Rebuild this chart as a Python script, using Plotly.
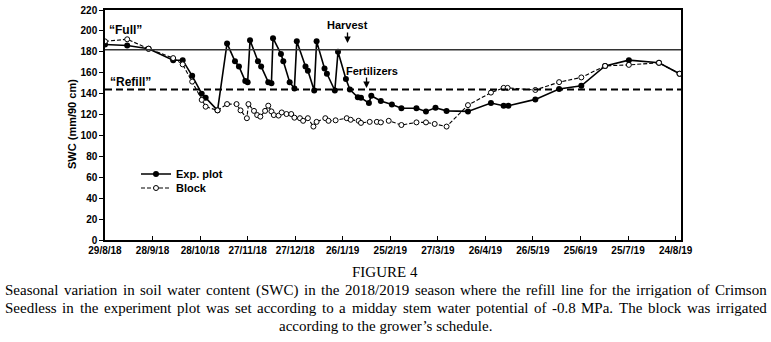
import pandas as pd
import plotly.graph_objects as go

# ---- data (days since 29/8/18, SWC mm/90 cm) ----
start = pd.Timestamp("2018-08-29")
exp_days = [0, 14, 27.5, 43, 49, 55, 61, 63.5, 71, 77,
            82, 84.5, 88.5, 90, 91.5, 96.5, 98.5, 103, 105, 106,
            111, 112.5, 116.5, 119.5, 121, 126.5, 128, 132, 133.5, 138.5,
            140, 145, 147, 152, 154.5, 159.5, 161.5, 166.5, 168, 174,
            181, 187, 196.5, 202.5, 208.5, 215.5, 229, 243.5, 251.5, 254.5,
            271.5, 286.5, 300.5, 315.5, 330.5, 349.5, 362.5]
exp_vals = [187, 186, 183, 172, 172, 157, 140, 136, 124, 188,
            171, 166, 152, 151, 191, 171, 166, 151, 150, 193,
            178, 171, 151, 145, 190, 166, 162, 143, 190, 164,
            159, 143, 180, 154, 144, 136.5, 136, 131, 138, 133,
            129.5, 126, 126, 123, 126.5, 123.5, 123, 131, 128.5, 128.5,
            134.5, 144.5, 147.5, 166.5, 172, 169.5, 159]
block_days = [0, 14, 27.5, 43, 49, 55, 61, 63.5, 71, 77,
              83, 85.5, 89.5, 90.5, 94, 96, 98, 101, 103, 105,
              106.5, 109.5, 111.5, 114.5, 117.5, 119.5, 123, 125, 128, 131.5,
              133.5, 139, 141, 145.5, 152.5, 155, 160, 161.5, 167, 171.5,
              174, 179, 187, 196.5, 202.5, 208, 215.5, 229, 243.5, 251.5,
              254, 271.5, 286.5, 300.5, 315.5, 330.5, 349.5, 362.5]
block_vals = [190, 192, 183, 174, 168, 151.5, 134, 127.5, 124, 130,
              130, 124, 116.5, 130, 123.5, 119.5, 118, 123.5, 128.5, 123,
              119.5, 119, 122, 120.5, 120.5, 117, 116.5, 114, 116.5, 108.5,
              113, 116.5, 114, 114.5, 116.5, 115, 114, 112, 113, 113,
              112.5, 114, 110, 112.5, 112.5, 111, 108.5, 129, 141, 145.5,
              145.5, 143.5, 151, 155.5, 166.5, 167.5, 169.5, 159]
full_level = 182
refill_level = 144
tick_days = [0, 30, 60, 90, 120, 150, 180, 210, 240, 270, 300, 330, 360]
tick_labels = ["29/8/18", "28/9/18", "28/10/18", "27/11/18", "27/12/18", "26/1/19",
               "25/2/19", "27/3/19", "26/4/19", "26/5/19", "25/6/19", "25/7/19", "24/8/19"]
harvest_day, harvest_val = 153, 188.5
fert_day, fert_val = 165, 145.5

W, H = 771, 342
L, R, T, B = 105, 90, 10, 102
PW, PH = W - L - R, H - T - B


def to_dates(days):
    return [start + pd.Timedelta(days=d) for d in days]


def day(d):
    return start + pd.Timedelta(days=d)


def px_x(px):
    return (px - L) / PW


def px_y(py):
    return (H - B - py) / PH


fig = go.Figure()
fig.add_trace(go.Scatter(x=to_dates(exp_days), y=exp_vals, mode="lines+markers",
                         name="<b>Exp. plot</b>", legend="legend",
                         line=dict(color="black", width=1.6),
                         marker=dict(symbol="circle", size=6, color="black")))
fig.add_trace(go.Scatter(x=to_dates(block_days), y=block_vals, mode="lines+markers",
                         name="<b>Block</b>", legend="legend2",
                         line=dict(color="black", width=1.1, dash="4px,2px"),
                         marker=dict(symbol="circle", size=5, color="white",
                                     line=dict(color="black", width=1))))

fig.add_shape(type="line", xref="paper", x0=0, x1=1, yref="y", y0=full_level, y1=full_level,
              line=dict(color="#333333", width=1.5))
fig.add_shape(type="line", xref="paper", x0=0, x1=1, yref="y", y0=refill_level, y1=refill_level,
              line=dict(color="black", width=2, dash="7px,4px"))

sans = "Liberation Sans, Arial, sans-serif"
bold = dict(family=sans, size=11, color="black")
fig.add_annotation(text="<b>SWC (mm/90 cm)</b>", xref="paper", yref="paper",
                   x=px_x(72), y=px_y(124), xanchor="center", yanchor="middle",
                   textangle=-90, showarrow=False, font=bold)
fig.add_annotation(text="<b>“Full”</b>", xref="x", yref="y", x=day(13), y=201,
                   showarrow=False, font=dict(bold, size=12))
fig.add_annotation(text="<b>“Refill”</b>", xref="x", yref="y", x=day(16), y=151,
                   showarrow=False, font=dict(bold, size=12))
fig.add_annotation(text="<b>Harvest</b>", xref="x", yref="y", x=day(153.3), y=205.7,
                   showarrow=False, font=bold)
fig.add_annotation(text="", xref="x", yref="y", x=day(harvest_day), y=harvest_val,
                   ax=0, ay=-12, showarrow=True, arrowhead=2, arrowsize=1,
                   arrowwidth=1.3, arrowcolor="black", standoff=0)
fig.add_annotation(text="<b>Fertilizers</b>", xref="x", yref="y", x=day(168.5), y=161.7,
                   showarrow=False, font=bold)
fig.add_annotation(text="", xref="x", yref="y", x=day(fert_day), y=fert_val,
                   ax=0, ay=-12, showarrow=True, arrowhead=2, arrowsize=1,
                   arrowwidth=1.3, arrowcolor="black", standoff=0)

# ---- caption (Times metrics, justified) ----
cap_size = 15
serif = dict(family="Liberation Serif, Times New Roman, serif", size=cap_size, color="black")
tw = {' ': 250, '(': 333, ')': 333, '/': 278, '.': 250, '-': 333, ',': 250, '’': 333}
tw.update(dict(zip("abcdefghijklmnopqrstuvwxyz",
                   [444, 500, 444, 500, 444, 333, 500, 500, 278, 278, 500, 278, 778, 500, 500,
                    500, 500, 333, 389, 278, 500, 500, 722, 500, 500, 444])))
tw.update(dict(zip("ABCDEFGHIJKLMNOPQRSTUVWXYZ",
                   [722, 667, 667, 722, 611, 556, 722, 722, 333, 389, 722, 611, 889, 722, 722,
                    556, 722, 667, 556, 611, 722, 722, 944, 722, 722, 611])))
for dg in "0123456789":
    tw[dg] = 500


def text_w(s):
    return sum(tw.get(c, 500) for c in s) * cap_size / 1000.0


fig.add_annotation(text="FIGURE 4", xref="paper", yref="paper", x=px_x(385), y=px_y(272),
                   showarrow=False, font=serif, yanchor="middle")
cap_lines = ["Seasonal variation in soil water content (SWC) in the 2018/2019 season where the refill line for the irrigation of Crimson",
             "Seedless in the experiment plot was set according to a midday stem water potential of -0.8 MPa. The block was irrigated",
             "according to the grower’s schedule."]
line_y = [290, 308, 326]
x_left, x_right = 4, 766
for i, (ln, yy) in enumerate(zip(cap_lines, line_y)):
    if i < 2:
        words = ln.split(" ")
        total = sum(text_w(w) for w in words)
        gap = (x_right - x_left - total) / (len(words) - 1)
        cx = x_left
        for w in words:
            fig.add_annotation(text=w, xref="paper", yref="paper", x=px_x(cx),
                               xanchor="left", y=px_y(yy), yanchor="middle",
                               showarrow=False, font=serif, borderpad=0)
            cx += text_w(w) + gap
    else:
        fig.add_annotation(text=ln, xref="paper", yref="paper", x=px_x(385),
                           xanchor="center", y=px_y(yy), yanchor="middle",
                           showarrow=False, font=serif, borderpad=0)

leg_common = dict(xanchor="left", yanchor="middle", bgcolor="rgba(0,0,0,0)",
                  font=dict(family=sans, size=11, color="black"), itemwidth=30)
fig.update_layout(
    width=W, height=H,
    margin=dict(l=L, r=R, t=T, b=B, autoexpand=False),
    paper_bgcolor="white", plot_bgcolor="white",
    showlegend=True,
    legend=dict(leg_common, x=px_x(136), y=px_y(174)),
    legend2=dict(leg_common, x=px_x(136), y=px_y(188)),
    font=dict(family=sans, color="black"),
)
fig.update_xaxes(type="date", range=[start, day(363.4)], automargin=False,
                 tickvals=to_dates(tick_days), ticktext=["<b>%s</b>" % t for t in tick_labels],
                 ticks="inside", ticklen=4, tickcolor="black", tickwidth=1,
                 showline=True, linecolor="black", linewidth=1.5, mirror=True,
                 showgrid=False, zeroline=False,
                 tickfont=dict(family=sans, size=10, color="black"))
fig.update_yaxes(range=[0, 220], tickvals=list(range(0, 221, 20)), automargin=False,
                 ticktext=["<b>%d</b>" % v for v in range(0, 221, 20)],
                 ticks="outside", ticklen=4, tickcolor="black",
                 showline=True, linecolor="black", linewidth=1.5, mirror=True,
                 showgrid=False, zeroline=False,
                 tickfont=dict(family=sans, size=10, color="black"))

fig.write_html("out.html", config={"displayModeBar": False},
               post_script="document.body.style.margin='0';")
